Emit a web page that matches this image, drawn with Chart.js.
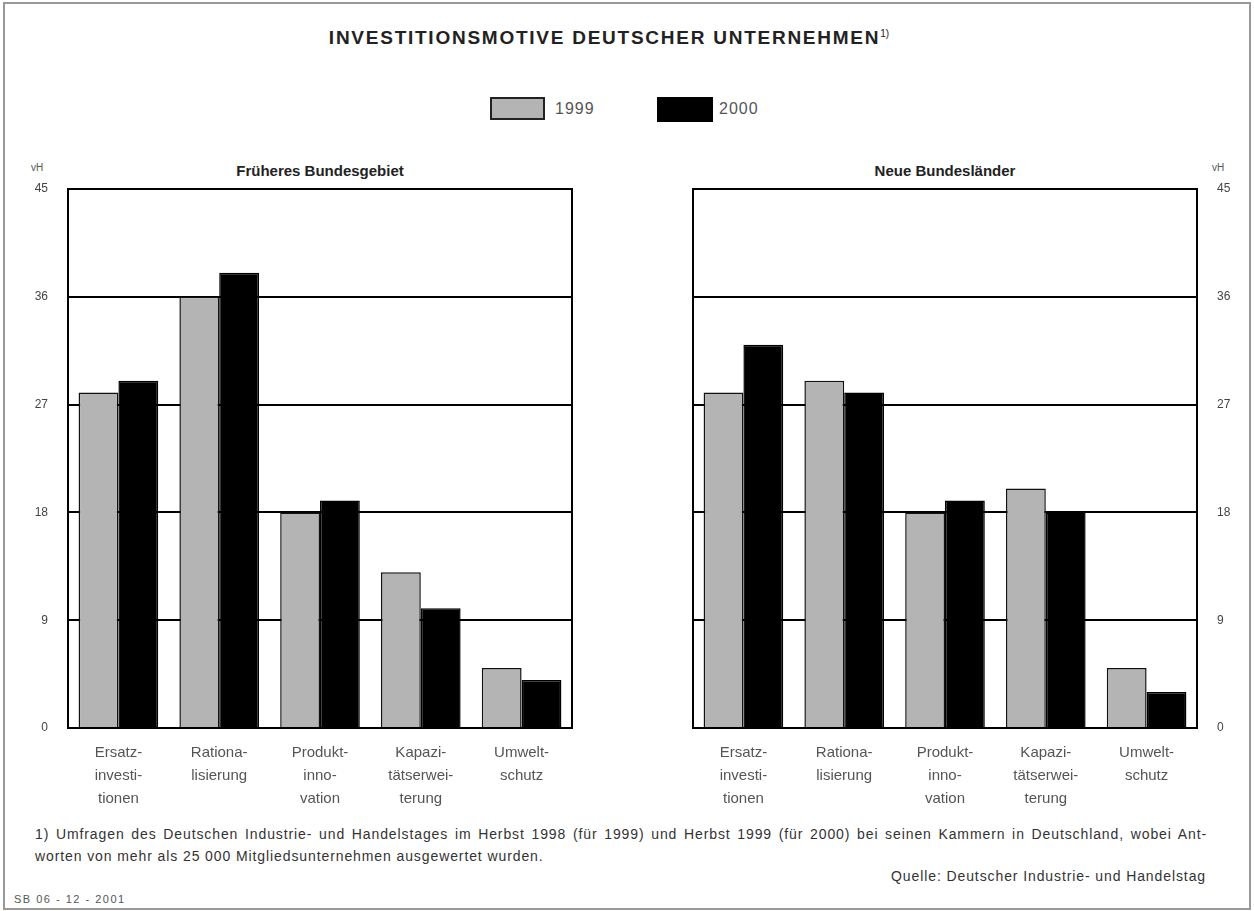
<!DOCTYPE html>
<html>
<head>
<meta charset="utf-8">
<script src="https://cdn.jsdelivr.net/npm/chart.js@4"></script>
<style>
  body { margin: 0; background: #fff; font-family: "Liberation Sans", Arial, sans-serif; }
  #page { position: relative; width: 1254px; height: 911px; overflow: hidden; }
  #frame { position: absolute; left: 3px; top: 2px; width: 1244px; height: 904px; border: 2px solid #999; }
  .txt { position: absolute; white-space: nowrap; color: #222; }
  .note { font-size: 14px; letter-spacing: 0.9px; color: #333; }
  canvas { position: absolute; }
</style>
</head>
<body>
<div id="page">
  <div id="frame"></div>
  <div class="txt" style="left:-18px;width:1254px;top:27px;text-align:center;font-weight:bold;font-size:19px;letter-spacing:1.75px;">INVESTITIONSMOTIVE DEUTSCHER UNTERNEHMEN<sup style="font-size:10px;font-weight:normal;letter-spacing:0;">1)</sup></div>

  <!-- legend -->
  <div style="position:absolute;left:490px;top:97px;width:55px;height:23px;background:#b4b4b4;border:2px solid #222;box-sizing:border-box;"></div>
  <div class="txt" style="left:555px;top:100px;font-size:16px;letter-spacing:1px;color:#555;">1999</div>
  <div style="position:absolute;left:657px;top:97px;width:56px;height:25px;background:#000;"></div>
  <div class="txt" style="left:719px;top:100px;font-size:16px;letter-spacing:1px;color:#555;">2000</div>

  <!-- panel titles / units -->
  <div class="txt" style="left:68px;width:504px;top:162px;text-align:center;font-weight:bold;font-size:15px;">Früheres Bundesgebiet</div>
  <div class="txt" style="left:693px;width:504px;top:162px;text-align:center;font-weight:bold;font-size:15px;">Neue Bundesländer</div>
  <div class="txt" style="left:31px;top:162px;font-size:10px;color:#555;">vH</div>
  <div class="txt" style="left:1212px;top:162px;font-size:10px;color:#555;">vH</div>

  <canvas id="west" width="600" height="658" style="left:0;top:150px;"></canvas>
  <canvas id="ost" width="629" height="658" style="left:625px;top:150px;"></canvas>

  <!-- footnote -->
  <div class="txt note" style="left:35px;width:1172px;top:826px;text-align:justify;text-align-last:justify;white-space:normal;">1) Umfragen des Deutschen Industrie- und Handelstages im Herbst 1998 (für 1999) und Herbst 1999 (für 2000) bei seinen Kammern in Deutschland, wobei Ant-</div>
  <div class="txt note" style="left:35px;top:848px;">worten von mehr als 25 000 Mitgliedsunternehmen ausgewertet wurden.</div>
  <div class="txt note" style="left:0;width:1206px;top:868px;text-align:right;">Quelle: Deutscher Industrie- und Handelstag</div>
  <div class="txt" style="left:14px;top:893px;font-size:11px;letter-spacing:1.5px;color:#555;">SB 06 - 12 - 2001</div>
</div>

<script>
// values in vH
const categories = [
  ["Ersatz-", "investi-", "tionen"],
  ["Rationa-", "lisierung"],
  ["Produkt-", "inno-", "vation"],
  ["Kapazi-", "tätserwei-", "terung"],
  ["Umwelt-", "schutz"]
];
const years = ["1999", "2000"];
const west1999 = [28, 36, 18, 13, 5];
const west2000 = [29, 38, 19, 10, 4];
const ost1999 = [28, 29, 18, 20, 5];
const ost2000 = [32, 28, 19, 18, 3];
const yTicks = [0, 9, 18, 27, 36, 45];

// box around the plot area
const framePlugin = {
  id: "frameBox",
  afterDraw(chart) {
    const a = chart.chartArea, ctx = chart.ctx;
    ctx.save();
    ctx.strokeStyle = "#000";
    ctx.lineWidth = 2;
    ctx.strokeRect(a.left, a.top, a.right - a.left, a.bottom - a.top);
    ctx.restore();
  }
};

function makeChart(id, d1999, d2000, side) {
  const yWidth = side === "left" ? 68 : 57;
  return new Chart(document.getElementById(id), {
    type: "bar",
    data: {
      labels: categories,
      datasets: [
        { label: years[0], data: d1999, backgroundColor: "#b4b4b4", borderColor: "#111", borderWidth: 1.5 },
        { label: years[1], data: d2000, backgroundColor: "#000", borderColor: "#000", borderWidth: 1.5 }
      ]
    },
    options: {
      responsive: false,
      animation: false,
      layout: { padding: side === "left" ? { top: 39, right: 28 } : { top: 39, left: 68 } },
      datasets: { bar: { categoryPercentage: 0.79, barPercentage: 1 } },
      scales: {
        x: {
          grid: { display: false },
          border: { display: false },
          ticks: { color: "#555", font: { family: "Liberation Sans", size: 15, lineHeight: 1.55 }, padding: 5, maxRotation: 0, autoSkip: false },
          afterFit: s => { s.height = 80; }
        },
        y: {
          position: side,
          min: 0,
          max: 45,
          afterBuildTicks: s => { s.ticks = yTicks.map(v => ({ value: v })); },
          grid: { color: "#000", lineWidth: 2, drawTicks: false },
          border: { color: "#000", width: 2 },
          ticks: { color: "#444", font: { family: "Liberation Sans", size: 12 }, padding: 20 },
          afterFit: s => { s.width = yWidth; }
        }
      },
      plugins: { legend: { display: false }, tooltip: { enabled: false } }
    },
    plugins: [framePlugin]
  });
}

makeChart("west", west1999, west2000, "left");
makeChart("ost", ost1999, ost2000, "right");
</script>
</body>
</html>
